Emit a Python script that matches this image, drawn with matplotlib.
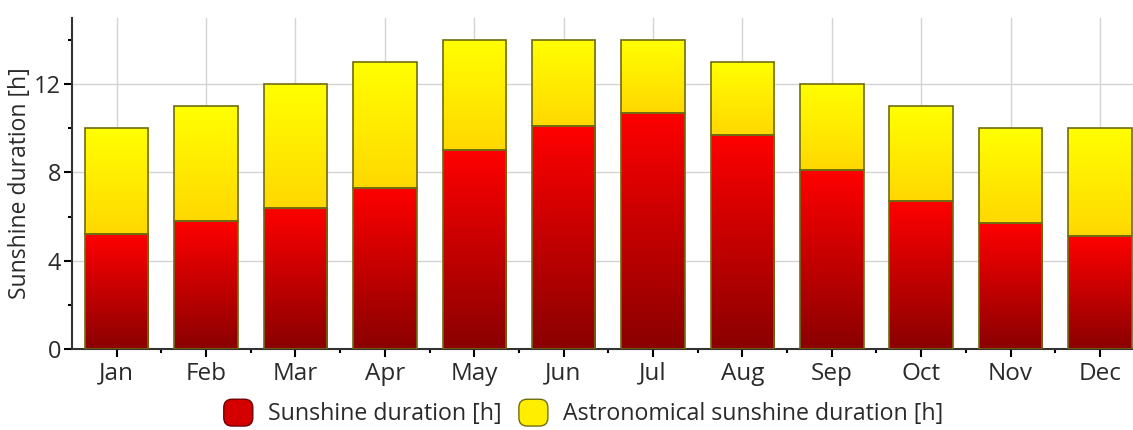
import numpy as np
import matplotlib
matplotlib.use("Agg")
import matplotlib.pyplot as plt
from matplotlib.colors import LinearSegmentedColormap
from matplotlib.patches import Patch, FancyBboxPatch
from matplotlib.legend_handler import HandlerPatch

# data
months = ["Jan", "Feb", "Mar", "Apr", "May", "Jun",
          "Jul", "Aug", "Sep", "Oct", "Nov", "Dec"]
astro_hours = [10, 11, 12, 13, 14, 14, 14, 13, 12, 11, 10, 10]
sun_hours = [5.2, 5.8, 6.4, 7.3, 9.0, 10.1, 10.7, 9.7, 8.1, 6.7, 5.7, 5.1]

plt.rcParams['font.family'] = ['Open Sans', 'DejaVu Sans']
text_col = "#2a2a2a"

red_cmap = LinearSegmentedColormap.from_list("r", ["#8a0000", "#ff0000"])
yel_cmap = LinearSegmentedColormap.from_list("y", ["#ffd800", "#ffff00"])
edge = "#706c10"

fig = plt.figure(figsize=(11.33, 4.3), dpi=100)
ax = fig.add_axes([72 / 1133, 1 - 349 / 430, 1 - 72 / 1133, (349 - 18) / 430])

x = np.arange(len(months))
width = 0.71
grad = np.linspace(0, 1, 256).reshape(-1, 1)


def gradient_bars(bottoms, tops, cmap):
    bars = ax.bar(x, np.array(tops) - np.array(bottoms), width, bottom=bottoms,
                  facecolor="none", edgecolor=edge, linewidth=1.2, zorder=4)
    for b in bars:
        x0, y0 = b.get_x(), b.get_y()
        w, h = b.get_width(), b.get_height()
        im = ax.imshow(grad, cmap=cmap, origin="lower", aspect="auto",
                       extent=(x0, x0 + w, y0, y0 + h), zorder=3)
        im.set_clip_path(b)
    return bars


gradient_bars(sun_hours, astro_hours, yel_cmap)
gradient_bars([0] * 12, sun_hours, red_cmap)

ax.set_xlim(-0.5, 11.37)
ax.set_ylim(0, 15)
ax.set_xticks(x)
ax.set_xticklabels(months, fontsize=17.5, color=text_col)
ax.set_xticks(x[:-1] + 0.5, minor=True)
ax.set_yticks([0, 4, 8, 12])
ax.set_yticks([2, 6, 10, 14], minor=True)
ax.tick_params(axis="y", labelsize=17, labelcolor=text_col, length=6, width=1.5, pad=2)
ax.tick_params(axis="y", which="minor", length=3, width=1.5)
ax.tick_params(axis="x", length=6, width=1.5, pad=3)
ax.tick_params(axis="x", which="minor", length=3, width=1.5)
ax.grid(True, color="#d4d4d4", linewidth=1)
ax.set_axisbelow(True)
ax.set_ylabel("Sunshine duration [h]", fontsize=16.5, color=text_col, labelpad=1)

for s in ["top", "right"]:
    ax.spines[s].set_visible(False)
for s in ["left", "bottom"]:
    ax.spines[s].set_linewidth(1.5)
    ax.spines[s].set_color("#333333")


class RoundHandler(HandlerPatch):
    def create_artists(self, legend, orig_handle, xdescent, ydescent,
                       width, height, fontsize, trans):
        p = FancyBboxPatch((-xdescent + 3, -ydescent + 3), width - 6, height - 6,
                           boxstyle="round,pad=3,rounding_size=6",
                           facecolor=orig_handle.get_facecolor(),
                           edgecolor=orig_handle.get_edgecolor(), linewidth=1)
        p.set_transform(trans)
        return [p]


handles = [Patch(facecolor="#d40000", edgecolor="#700000", label="Sunshine duration [h]"),
           Patch(facecolor="#ffee00", edgecolor=edge, label="Astronomical sunshine duration [h]")]
fig.legend(handles=handles, loc="center", bbox_to_anchor=(0.515, 0.04), ncol=2,
           frameon=False, fontsize=16.7, handlelength=1.25, handleheight=1.4,
           columnspacing=0.75, handletextpad=0.65, labelcolor=text_col,
           handler_map={Patch: RoundHandler()})

fig.savefig("out.png", dpi=100)
